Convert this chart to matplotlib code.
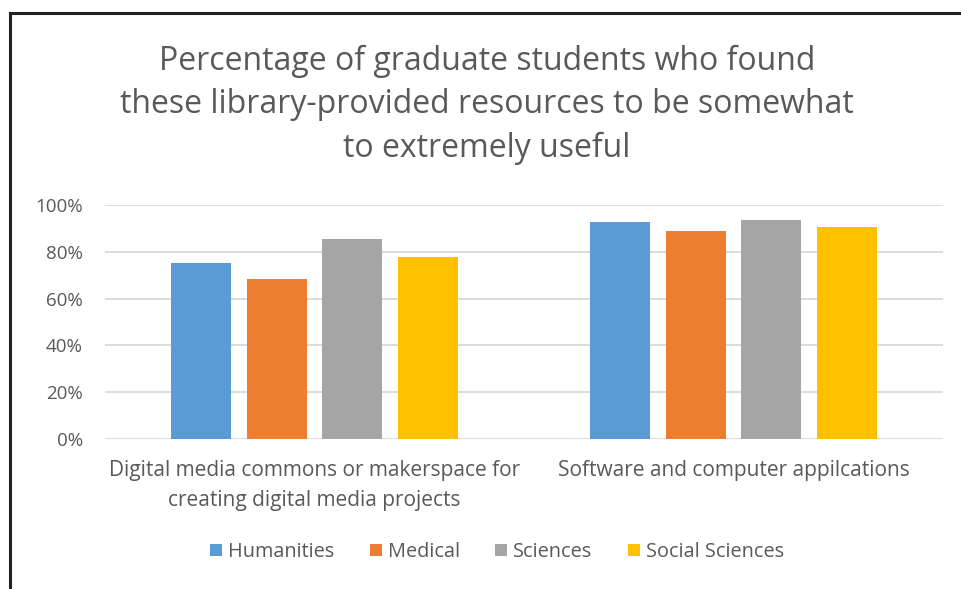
import numpy as np
import matplotlib
matplotlib.use("Agg")
import matplotlib.pyplot as plt
from matplotlib.lines import Line2D

plt.rcParams['font.family'] = ['Open Sans', 'DejaVu Sans']

categories = ["Digital media commons or makerspace for\ncreating digital media projects",
              "Software and computer appilcations"]
series_names = ["Humanities", "Medical", "Sciences", "Social Sciences"]
humanities = [75.2, 92.6]
medical = [68.4, 88.7]
sciences = [85.5, 93.6]
social_sciences = [77.8, 90.5]
colors = ["#5b9bd5", "#ed7d31", "#a5a5a5", "#ffc000"]
yticks = [0, 20, 40, 60, 80, 100]

text_color = "#595959"

fig = plt.figure(figsize=(9.61, 5.89), dpi=100)
ax = fig.add_axes([105 / 961, 1 - 439 / 589, 838 / 961, 234 / 589])

x = np.arange(len(categories))
width = 0.143
step = 0.181
for i, (name, vals) in enumerate(zip(series_names, [humanities, medical, sciences, social_sciences])):
    ax.bar(x + (i - 1.5) * step, vals, width, color=colors[i], label=name, zorder=3)

ax.set_xlim(-0.5, 1.5)
ax.set_ylim(0, 100)
ax.set_yticks(yticks)
ax.set_yticklabels([f"{v}%" for v in yticks])
ax.set_xticks(x)
ax.set_xticklabels(categories, fontsize=15, color=text_color, linespacing=1.6)
ax.tick_params(axis='y', labelsize=13.5, labelcolor=text_color, length=0, pad=16)
ax.tick_params(axis='x', length=0, pad=15)
ax.grid(axis='y', color="#d9d9d9", linewidth=1.3, zorder=0)
for s in ax.spines.values():
    s.set_visible(False)

fig.text(487 / 961, 1 - 105 / 589,
         "Percentage of graduate students who found\nthese library-provided resources to be somewhat\nto extremely useful",
         ha='center', va='center', fontsize=23, color=text_color, linespacing=1.42)

fig.legend(loc='center', bbox_to_anchor=(497 / 961, 1 - 552 / 589), ncol=4, frameon=False,
           fontsize=14.3, labelcolor=text_color, handlelength=0.6, handleheight=0.6,
           handletextpad=0.3, columnspacing=1.8)

# frame around the chart (top and left edges visible in the original)
fig.add_artist(Line2D([10 / 961, 1], [1 - 13 / 589, 1 - 13 / 589], color="#222222", linewidth=2.2))
fig.add_artist(Line2D([10 / 961, 10 / 961], [0, 1 - 13 / 589], color="#222222", linewidth=2.2))

fig.savefig("out.png", dpi=100, facecolor="white")
